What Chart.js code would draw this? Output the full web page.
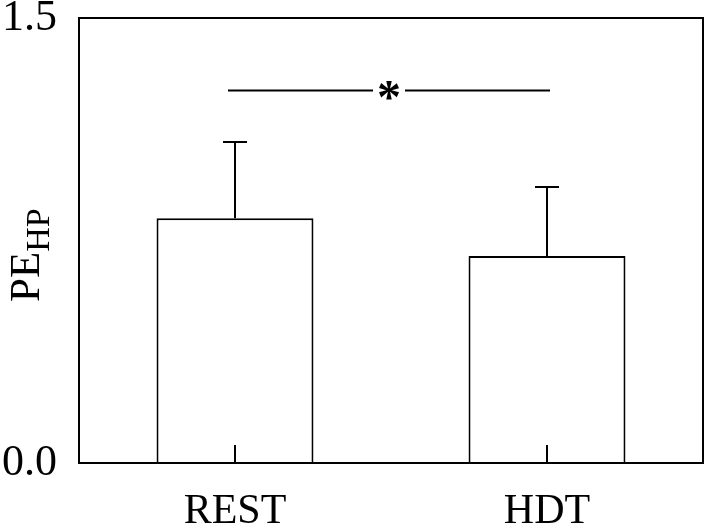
<!DOCTYPE html>
<html>
<head>
<meta charset="utf-8">
<script src="https://cdn.jsdelivr.net/npm/chart.js@4"></script>
<style>
  html, body { margin: 0; padding: 0; background: #fff; }
  canvas { display: block; }
</style>
</head>
<body>
<canvas id="chart" width="708" height="527"></canvas>
<script>
const categories = ["REST", "HDT"];
const means = [0.825, 0.698];
const sds = [0.257, 0.232];
const yTicks = [0, 1.5];
const sigLevel = 1.256;
const sigLabel = "*";

const serif = "'Liberation Serif', 'Times New Roman', serif";

// error bars, frame, inner x ticks, significance bracket, y title
const extras = {
  id: "extras",
  afterDatasetsDraw(chart) {
    const ctx = chart.ctx;
    const area = chart.chartArea;
    const x = chart.scales.x;
    const y = chart.scales.y;
    ctx.save();
    ctx.strokeStyle = "#000";
    ctx.lineWidth = 2;

    // frame
    ctx.strokeRect(area.left, area.top, area.right - area.left, area.bottom - area.top);

    categories.forEach((c, i) => {
      const cx = x.getPixelForValue(i);
      // small inward tick
      ctx.beginPath();
      ctx.moveTo(cx, area.bottom);
      ctx.lineTo(cx, area.bottom - 18);
      ctx.stroke();
      // upper error bar
      const top = y.getPixelForValue(means[i] + sds[i]);
      ctx.beginPath();
      ctx.moveTo(cx, y.getPixelForValue(means[i]));
      ctx.lineTo(cx, top);
      ctx.moveTo(cx - 12, top);
      ctx.lineTo(cx + 12, top);
      ctx.stroke();
    });

    // significance line
    const x1 = x.getPixelForValue(0) - 7;
    const x2 = x.getPixelForValue(1) + 3;
    const sy = y.getPixelForValue(sigLevel);
    const mid = (x1 + x2) / 2;
    ctx.beginPath();
    ctx.moveTo(x1, sy);
    ctx.lineTo(mid - 16, sy);
    ctx.moveTo(mid + 16, sy);
    ctx.lineTo(x2, sy);
    ctx.stroke();
    ctx.fillStyle = "#000";
    ctx.font = "bold 48px " + serif;
    ctx.textAlign = "center";
    ctx.textBaseline = "alphabetic";
    const m = ctx.measureText(sigLabel);
    const inkMid = (m.actualBoundingBoxAscent - m.actualBoundingBoxDescent) / 2;
    ctx.fillText(sigLabel, mid, sy + inkMid);

    // y title PE with subscript HP
    ctx.translate(39, 302);
    ctx.rotate(-Math.PI / 2);
    ctx.textAlign = "left";
    ctx.font = "43px " + serif;
    ctx.fillText("PE", 0, 0);
    const w = ctx.measureText("PE").width;
    ctx.font = "34px " + serif;
    ctx.fillText("HP", w, 10);
    ctx.restore();
  }
};

new Chart(document.getElementById("chart"), {
  type: "bar",
  data: {
    labels: categories,
    datasets: [{
      data: means,
      backgroundColor: "#fff",
      borderColor: "#000",
      borderWidth: 2,
      borderSkipped: "bottom",
      categoryPercentage: 1,
      barPercentage: 0.503
    }]
  },
  options: {
    responsive: false,
    animation: false,
    layout: { padding: { top: 18, right: 5, left: 0, bottom: 0 } },
    plugins: { legend: { display: false }, tooltip: { enabled: false } },
    scales: {
      x: {
        grid: { display: false },
        border: { display: false },
        ticks: { color: "#000", font: { family: serif, size: 42 }, padding: 16 },
        afterFit(s) { s.height = 64; s.paddingLeft = 0; s.paddingRight = 0; }
      },
      y: {
        min: 0,
        max: 1.5,
        grid: { display: false, drawTicks: false },
        border: { display: false },
        afterBuildTicks(s) { s.ticks = yTicks.map(v => ({ value: v })); },
        ticks: {
          color: "#000",
          font: { family: serif, size: 44 },
          padding: 22,
          callback: v => Number(v).toFixed(1)
        },
        afterFit(s) { s.width = 79; s.paddingTop = 0; s.paddingBottom = 0; }
      }
    }
  },
  plugins: [extras]
});
</script>
</body>
</html>
